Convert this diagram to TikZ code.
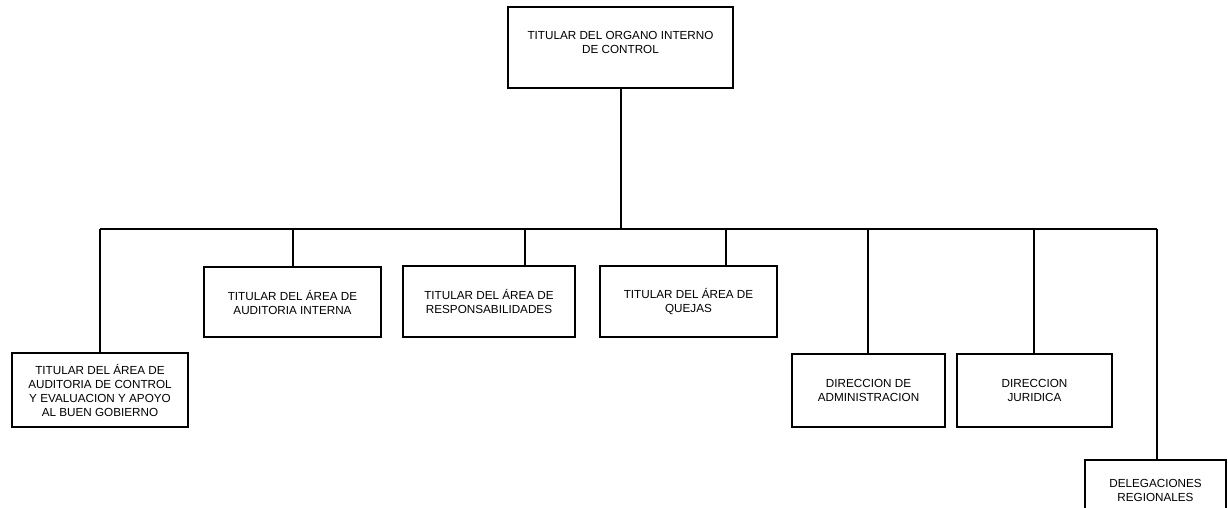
\documentclass[tikz,border=0pt]{standalone}
\usepackage{fontspec}
\setmainfont{Liberation Sans}
\begin{document}
\begin{tikzpicture}[x=1pt,y=-1pt,
  unitbox/.style={draw=black,line width=1.7pt,rectangle,inner sep=0pt,align=center,
    font=\fontsize{11.7}{14}\selectfont},
  link/.style={draw=black,line width=1.3pt}]
\useasboundingbox (0,0) rectangle (1228,508);
\clip (0,0) rectangle (1228,508);

% head of the organisation
\node[unitbox,minimum width=225pt,minimum height=81pt] (oic) at (620.5,47.5) {};
\node[font=\fontsize{11.7}{14.5}\selectfont,align=center,inner sep=0pt] (oictxt) at (620.5,42.5)
  {TITULAR DEL ORGANO INTERNO\\DE CONTROL};

% subordinate units
\node[unitbox,minimum width=176pt,minimum height=74pt] (u1) at (100,390)
  {TITULAR DEL ÁREA DE\\AUDITORIA DE CONTROL\\Y EVALUACION Y APOYO\\AL BUEN GOBIERNO};
\node[unitbox,minimum width=177pt,minimum height=70pt] (u2) at (292.5,302)
  {TITULAR DEL ÁREA DE\\AUDITORIA INTERNA};
\node[unitbox,minimum width=172pt,minimum height=71pt] (u3) at (489,301.5)
  {TITULAR DEL ÁREA DE\\RESPONSABILIDADES};
\node[unitbox,minimum width=177pt,minimum height=71pt] (u4) at (688.5,301.5)
  {TITULAR DEL ÁREA DE\\QUEJAS};
\node[unitbox,minimum width=153pt,minimum height=73pt] (u5) at (868.5,390.5)
  {DIRECCION DE\\ADMINISTRACION};
\node[unitbox,minimum width=155pt,minimum height=73pt] (u6) at (1034.5,390.5)
  {DIRECCION\\JURIDICA};
\node[unitbox,minimum width=141pt,minimum height=60pt] (u7) at (1155.5,490)
  {DELEGACIONES\\REGIONALES};

% distribution bus
\coordinate (hub) at (621,229);
\coordinate (b1) at (100,229);
\coordinate (b2) at (293,229);
\coordinate (b3) at (525,229);
\coordinate (b4) at (726,229);
\coordinate (b5) at (868,229);
\coordinate (b6) at (1034,229);
\coordinate (b7) at (1157,229);

\draw[link] (oic.south -| hub) -- (hub);
\draw[link] (b1) -- (b7);
\draw[link] (b1) -- (b1 |- u1.north);
\draw[link] (b2) -- (b2 |- u2.north);
\draw[link] (b3) -- (b3 |- u3.north);
\draw[link] (b4) -- (b4 |- u4.north);
\draw[link] (b5) -- (b5 |- u5.north);
\draw[link] (b6) -- (b6 |- u6.north);
\draw[link] (b7) -- (b7 |- u7.north);
\end{tikzpicture}
\end{document}
